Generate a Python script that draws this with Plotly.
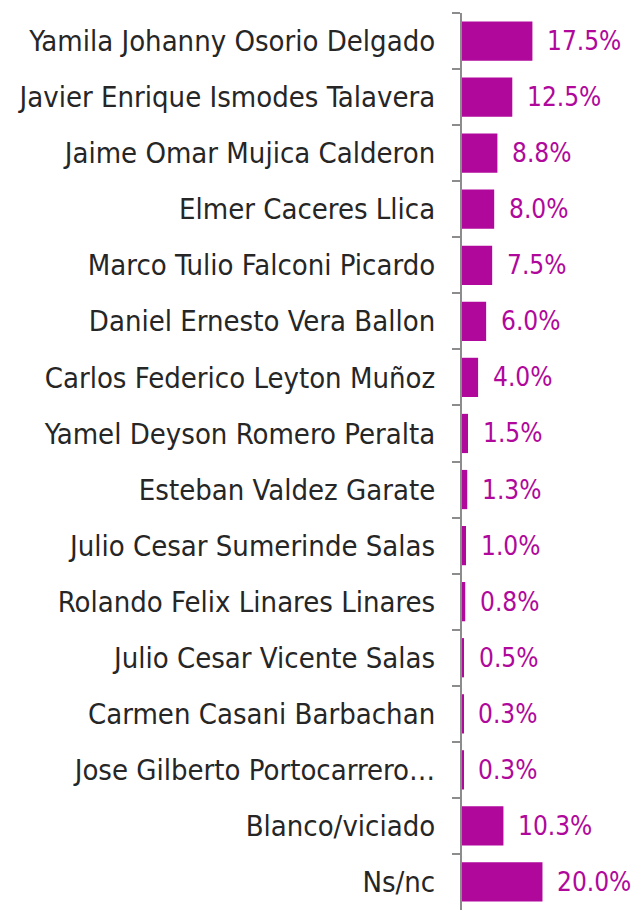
import plotly.graph_objects as go

categories = [
    "Yamila Johanny Osorio Delgado",
    "Javier Enrique Ismodes Talavera",
    "Jaime Omar Mujica Calderon",
    "Elmer Caceres Llica",
    "Marco Tulio Falconi Picardo",
    "Daniel Ernesto Vera Ballon",
    "Carlos Federico Leyton Muñoz",
    "Yamel Deyson Romero Peralta",
    "Esteban Valdez Garate",
    "Julio Cesar Sumerinde Salas",
    "Rolando Felix Linares Linares",
    "Julio Cesar Vicente Salas",
    "Carmen Casani Barbachan",
    "Jose Gilberto Portocarrero…",
    "Blanco/viciado",
    "Ns/nc",
]
values = [17.5, 12.5, 8.8, 8.0, 7.5, 6.0, 4.0, 1.5, 1.3, 1.0, 0.8, 0.5, 0.3, 0.3, 10.3, 20.0]
value_labels = [f"{v:.1f}%" for v in values]

BAR = "#B0089B"
FONT = "DejaVu Sans Condensed, Lato, sans-serif"

fig = go.Figure(go.Bar(
    x=values, y=categories, orientation="h",
    marker=dict(color=BAR, line=dict(width=0)),
    width=0.7,
    hoverinfo="skip",
))

for v, c, t in zip(values, categories, value_labels):
    fig.add_annotation(x=v, y=c, text=t, showarrow=False, xanchor="left",
                       xshift=13, font=dict(family=FONT, size=26, color=BAR))

fig.update_layout(
    width=635, height=910,
    margin=dict(l=462, r=0, t=13, b=0),
    paper_bgcolor="white", plot_bgcolor="white",
    showlegend=False,
    xaxis=dict(range=[0, 43], visible=False, automargin=False),
    yaxis=dict(
        autorange="reversed", automargin=False,
        showline=True, linecolor="#8c8c8c", linewidth=2,
        ticks="outside", ticklen=8, tickcolor="#8c8c8c", tickwidth=2,
        tickson="boundaries", ticklabelstandoff=19,
        tickfont=dict(family=FONT, size=29, color="#262626"),
        showgrid=False, zeroline=False,
    ),
)

fig.write_html("out.html", config={"displayModeBar": False},
               post_script="document.body.style.margin='0px';")
